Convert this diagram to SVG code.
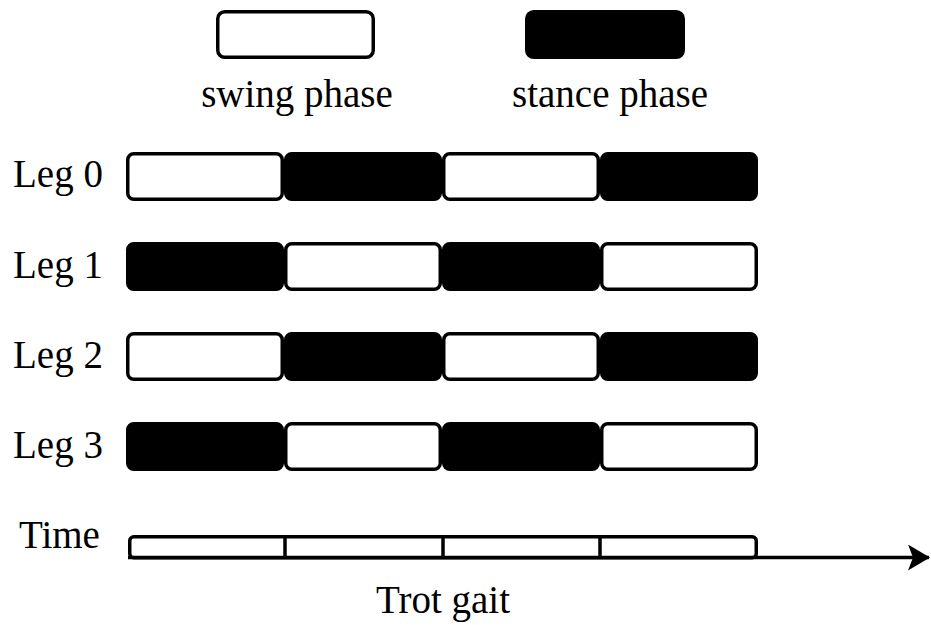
<svg xmlns="http://www.w3.org/2000/svg" width="931" height="625" viewBox="0 0 931 625">
  <style>
    .lbl { font-family: "Liberation Serif", "Times New Roman", serif; font-size: 39px; fill: #000; }
    .swing { fill: #fff; stroke: #000; stroke-width: 3.5; }
    .stance { fill: #000; stroke: #000; stroke-width: 3.5; }
    .axis { stroke: #000; stroke-width: 3.5; fill: none; }
  </style>
  <defs>
    <marker id="arrow" viewBox="0 0 22 26" refX="21" refY="13" markerWidth="22" markerHeight="26" markerUnits="userSpaceOnUse" orient="auto">
      <path d="M0,0 L22,13 L0,26 L5,13 Z" fill="#000"/>
    </marker>
  </defs>

  <!-- legend -->
  <g id="legend-swing">
    <rect class="swing" x="217.75" y="11.75" width="155.5" height="45.5" rx="7"/>
    <text class="lbl" x="297" y="107" text-anchor="middle">swing phase</text>
  </g>
  <g id="legend-stance">
    <rect class="stance" x="526.75" y="11.75" width="156.5" height="45.5" rx="7"/>
    <text class="lbl" x="610" y="107" text-anchor="middle">stance phase</text>
  </g>

  <!-- leg 0 -->
  <g id="leg0">
    <text class="lbl" x="13" y="187">Leg 0</text>
    <rect class="swing" x="127.75" y="153.75" width="154.5" height="45.5" rx="6"/>
    <rect class="stance" x="285.75" y="153.75" width="154.5" height="45.5" rx="6"/>
    <rect class="swing" x="443.75" y="153.75" width="154.5" height="45.5" rx="6"/>
    <rect class="stance" x="601.75" y="153.75" width="154.5" height="45.5" rx="6"/>
  </g>

  <!-- leg 1 -->
  <g id="leg1">
    <text class="lbl" x="13" y="278">Leg 1</text>
    <rect class="stance" x="127.75" y="243.75" width="154.5" height="45.5" rx="6"/>
    <rect class="swing" x="285.75" y="243.75" width="154.5" height="45.5" rx="6"/>
    <rect class="stance" x="443.75" y="243.75" width="154.5" height="45.5" rx="6"/>
    <rect class="swing" x="601.75" y="243.75" width="154.5" height="45.5" rx="6"/>
  </g>

  <!-- leg 2 -->
  <g id="leg2">
    <text class="lbl" x="13" y="368">Leg 2</text>
    <rect class="swing" x="127.75" y="333.75" width="154.5" height="45.5" rx="6"/>
    <rect class="stance" x="285.75" y="333.75" width="154.5" height="45.5" rx="6"/>
    <rect class="swing" x="443.75" y="333.75" width="154.5" height="45.5" rx="6"/>
    <rect class="stance" x="601.75" y="333.75" width="154.5" height="45.5" rx="6"/>
  </g>

  <!-- leg 3 -->
  <g id="leg3">
    <text class="lbl" x="13" y="458">Leg 3</text>
    <rect class="stance" x="127.75" y="423.75" width="154.5" height="45.5" rx="6"/>
    <rect class="swing" x="285.75" y="423.75" width="154.5" height="45.5" rx="6"/>
    <rect class="stance" x="443.75" y="423.75" width="154.5" height="45.5" rx="6"/>
    <rect class="swing" x="601.75" y="423.75" width="154.5" height="45.5" rx="6"/>
  </g>

  <!-- time bar -->
  <g id="time">
    <text class="lbl" x="19" y="548">Time</text>
    <rect class="swing" x="129.75" y="536.75" width="626.5" height="21" rx="4"/>
    <line class="axis" x1="285" y1="536" x2="285" y2="558"/>
    <line class="axis" x1="443" y1="536" x2="443" y2="558"/>
    <line class="axis" x1="600" y1="536" x2="600" y2="558"/>
  </g>

  <g id="connectors">
    <line class="axis" x1="128" y1="557.5" x2="929" y2="557.5" marker-end="url(#arrow)"/>
  </g>

  <text id="caption" class="lbl" x="443" y="613" text-anchor="middle">Trot gait</text>
</svg>
